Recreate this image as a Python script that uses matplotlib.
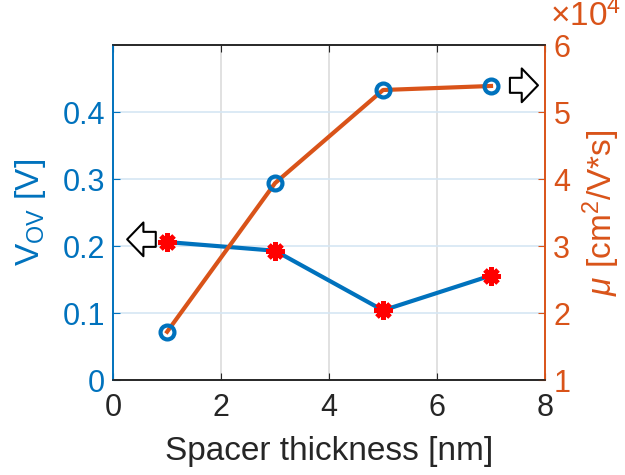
import numpy as np
import matplotlib.pyplot as plt

plt.rcParams['font.family'] = ['Liberation Sans', 'DejaVu Sans']
plt.rcParams['mathtext.fontset'] = 'custom'
plt.rcParams['mathtext.rm'] = 'Liberation Sans'
plt.rcParams['mathtext.it'] = 'Liberation Sans:italic'

# data
spacer = [1, 3, 5, 7]
v_ov = [0.206, 0.193, 0.104, 0.156]
mobility = [1.72e4, 3.94e4, 5.33e4, 5.39e4]

x_ticks = [0, 2, 4, 6, 8]
left_ticks = [0, 0.1, 0.2, 0.3, 0.4]
left_labels = ['0', '0.1', '0.2', '0.3', '0.4']
right_ticks = [1e4, 2e4, 3e4, 4e4, 5e4, 6e4]
right_labels = ['1', '2', '3', '4', '5', '6']

blue = '#0072BD'
orange = '#D95319'
dark = '#262626'
tick_fs = 22
label_fs = 24

fig = plt.figure(figsize=(6.25, 4.75), dpi=100)
ax = fig.add_axes([0.181, 0.2, 0.691, 0.705])
ax2 = ax.twinx()

# grid: vertical gray from x, horizontal light blue from left axis
for xv in x_ticks[1:-1]:
    ax.axvline(xv, color='#dcdcdc', lw=1.2, zorder=0)
for yv in left_ticks[1:]:
    ax.axhline(yv, color='#d6e6f4', lw=1.2, zorder=0)

ax.plot(spacer, v_ov, color=blue, lw=3, zorder=3)
ax.plot(spacer, v_ov, ls='none', marker=(8, 2, 0), ms=13, color='red',
        mec='red', mew=3.5, zorder=4)

ax2.plot(spacer, mobility, color=orange, lw=3, zorder=3)
ax2.plot(spacer, mobility, ls='none', marker='o', ms=10, mfc='none',
         mec=blue, mew=3, zorder=4)

ax.set_xlim(0, 8)
ax.set_ylim(0, 0.5)
ax2.set_ylim(1e4, 6e4)
ax.set_xticks(x_ticks)
ax.set_yticks(left_ticks)
ax.set_yticklabels(left_labels)
ax2.set_yticks(right_ticks)
ax2.set_yticklabels(right_labels)
ax2.text(1.012, 1.035, '×10$^4$', transform=ax2.transAxes,
         ha='left', va='bottom', fontsize=tick_fs + 2, color=orange)

ax.tick_params(axis='x', direction='in', top=True, colors=dark,
               labelsize=tick_fs, length=5, pad=9)
ax.tick_params(axis='y', direction='in', colors=blue, labelsize=tick_fs,
               length=5, pad=6)
ax2.tick_params(axis='y', direction='in', colors=orange, labelsize=tick_fs,
                length=5, pad=6)

for a in (ax, ax2):
    a.spines['top'].set_color(dark)
    a.spines['bottom'].set_color(dark)
    a.spines['left'].set_color(blue)
    a.spines['right'].set_color(orange)
    for s in a.spines.values():
        s.set_linewidth(1.2)

ax.set_xlabel('Spacer thickness [nm]', fontsize=label_fs, color=dark, labelpad=10)
ax.set_ylabel('V$_{\\mathrm{OV}}$ [V]', fontsize=label_fs, color=blue, labelpad=10)
ax2.set_ylabel('$\\mu$ [cm$^2$/V*s]', fontsize=label_fs, color=orange,
               rotation=90, labelpad=7)

# hollow arrows pointing to each axis
arrow = dict(arrowstyle='simple,head_length=0.65,head_width=1.35,tail_width=0.6',
             mutation_scale=18, fc='white', ec='black', lw=1.5,
             shrinkA=0, shrinkB=0)
ax.annotate('', xy=(0.26, 0.21), xytext=(0.79, 0.21), arrowprops=arrow, zorder=5)
ax.annotate('', xy=(7.87, 0.44), xytext=(7.35, 0.44), arrowprops=arrow, zorder=5)

fig.savefig('out.png', dpi=100)
